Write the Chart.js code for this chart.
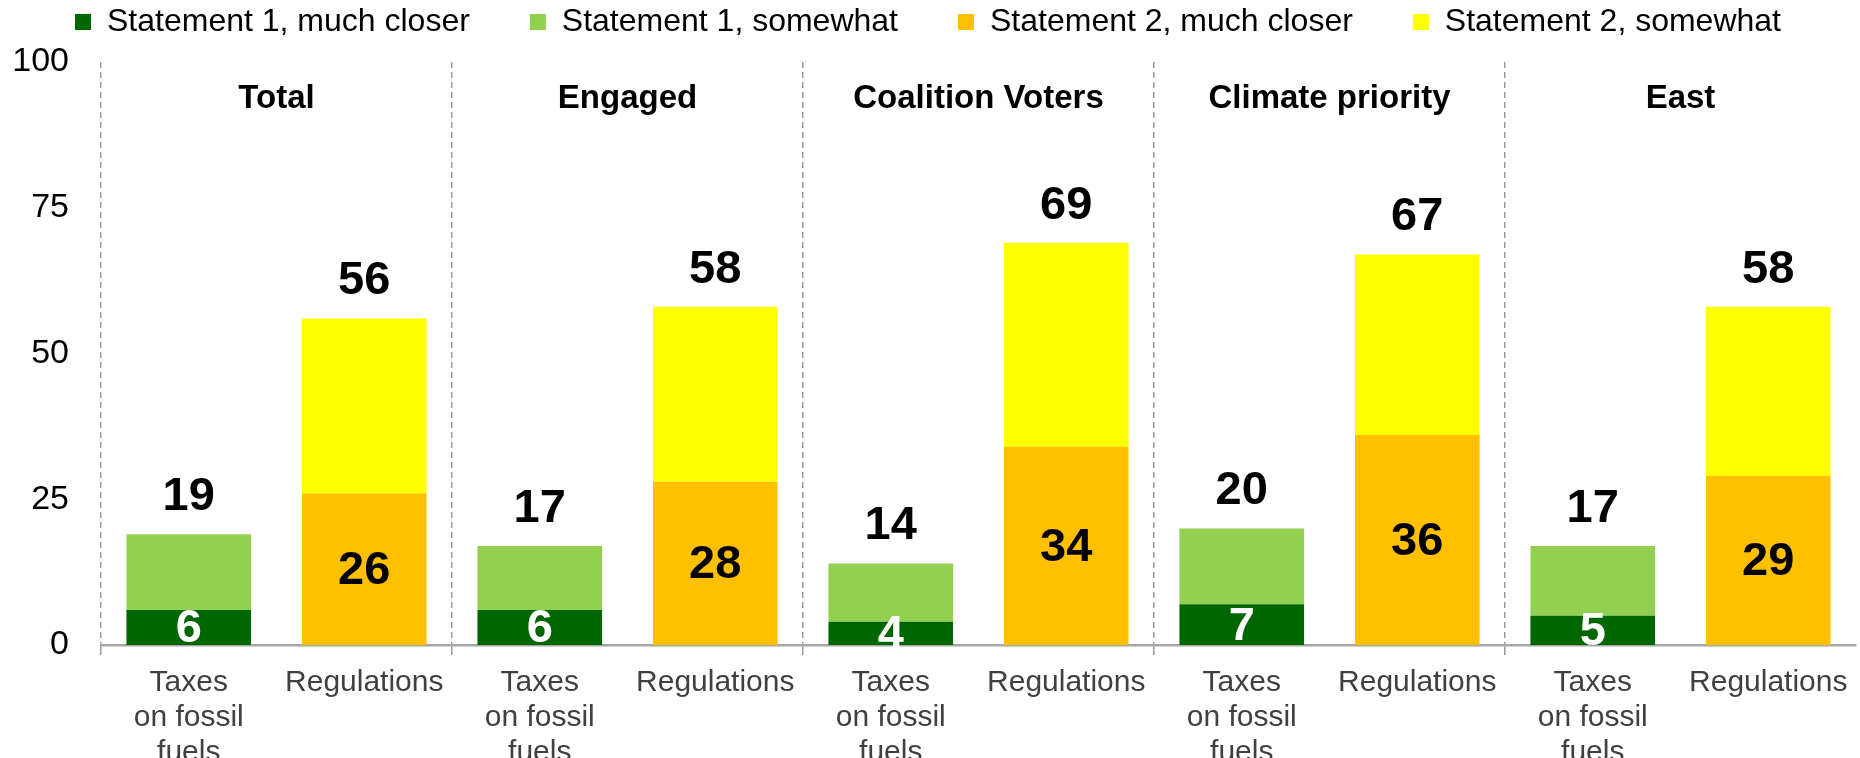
<!DOCTYPE html>
<html>
<head>
<meta charset="utf-8">
<title>Statement 1 vs Statement 2</title>
<script src="https://cdn.jsdelivr.net/npm/chart.js@4.4.1/dist/chart.umd.min.js"></script>
<style>
  html, body { margin: 0; padding: 0; background: #ffffff; }
  #wrap { position: relative; width: 1860px; height: 758px; }
</style>
</head>
<body>
<div id="wrap"><canvas id="chart"></canvas></div>
<script>
// groups shown as headers, two bars per group
const groups = ['Total', 'Engaged', 'Coalition Voters', 'Climate priority', 'East'];
const measures = [['Taxes', 'on fossil', 'fuels'], 'Regulations'];

// one value per bar (taxes, regulations, taxes, regulations, ...)
const s1Much = [6, null, 6, null, 4, null, 7, null, 5, null];
const s1Some = [13, null, 11, null, 10, null, 13, null, 12, null];
const s2Much = [null, 26, null, 28, null, 34, null, 36, null, 29];
const s2Some = [null, 30, null, 30, null, 35, null, 31, null, 29];

const yTicks = [0, 25, 50, 75, 100];

const labels = [];
groups.forEach(() => measures.forEach(m => labels.push(m)));

Chart.defaults.font.family = '"Liberation Sans", Arial, Helvetica, sans-serif';
Chart.defaults.color = '#000000';

// widen the legend box so the plot starts lower
const legendSpacer = {
    id: 'legendSpacer',
    beforeInit(chart) {
        const fit = chart.legend.fit;
        chart.legend.fit = function () {
            fit.call(this);
            this.height = 116;
        };
    }
};

// value labels: inner ones for the "much closer" parts, totals on top
const barLabels = {
    id: 'barLabels',
    afterDatasetsDraw(chart) {
        const ctx = chart.ctx;
        ctx.save();
        ctx.font = 'bold 47px "Liberation Sans", Arial, sans-serif';
        ctx.textAlign = 'center';
        ctx.textBaseline = 'middle';

        [[0, '#ffffff'], [2, '#000000']].forEach(([di, color]) => {
            const meta = chart.getDatasetMeta(di);
            chart.data.datasets[di].data.forEach((v, i) => {
                if (v == null) return;
                const bar = meta.data[i];
                ctx.fillStyle = color;
                ctx.fillText(String(v), bar.x, (bar.y + bar.base) / 2 + 2);
            });
        });

        chart.data.labels.forEach((_, i) => {
            let total = 0;
            let top = null;
            let x = null;
            chart.data.datasets.forEach((ds, di) => {
                const v = ds.data[i];
                if (v == null) return;
                total += v;
                const bar = chart.getDatasetMeta(di).data[i];
                x = bar.x;
                top = top == null ? bar.y : Math.min(top, bar.y);
            });
            if (top == null) return;
            ctx.fillStyle = '#000000';
            ctx.fillText(String(total), x, top - 37);
        });
        ctx.restore();
    }
};

// group headers centred over each pair of bars
const groupTitles = {
    id: 'groupTitles',
    afterDraw(chart) {
        const ctx = chart.ctx;
        const xs = chart.scales.x;
        ctx.save();
        ctx.font = 'bold 33px "Liberation Sans", Arial, sans-serif';
        ctx.fillStyle = '#000000';
        ctx.textAlign = 'center';
        ctx.textBaseline = 'middle';
        groups.forEach((g, gi) => {
            const x = (xs.getPixelForValue(gi * 2) + xs.getPixelForValue(gi * 2 + 1)) / 2;
            ctx.fillText(g, x, chart.chartArea.top + 37);
        });
        ctx.restore();
    }
};

const ctx = document.getElementById('chart');
new Chart(ctx.getContext('2d'), {
    type: 'bar',
    data: {
        labels: labels,
        datasets: [
            { label: 'Statement 1, much closer', data: s1Much, backgroundColor: '#006600' },
            { label: 'Statement 1, somewhat', data: s1Some, backgroundColor: '#92d050' },
            { label: 'Statement 2, much closer', data: s2Much, backgroundColor: '#ffc000' },
            { label: 'Statement 2, somewhat', data: s2Some, backgroundColor: '#ffff00' }
        ]
    },
    options: {
        responsive: true,
        maintainAspectRatio: false,
        animation: false,
        datasets: {
            bar: { barPercentage: 0.71, categoryPercentage: 1, borderWidth: 0 }
        },
        layout: { padding: { top: -54, right: 4, bottom: 0, left: 0 } },
        scales: {
            x: {
                stacked: true,
                offset: true,
                grid: {
                    offset: true,
                    drawOnChartArea: true,
                    drawTicks: true,
                    tickLength: 10,
                    lineWidth: 1.5,
                    color: c => (c.index % 2 === 0 ? '#999999' : 'rgba(0,0,0,0)'),
                    tickBorderDash: []
                },
                border: { display: true, color: '#a6a6a6', width: 2.5, dash: [6, 4] },
                ticks: {
                    color: '#404040',
                    padding: 10,
                    maxRotation: 0,
                    autoSkip: false,
                    font: { size: 30, lineHeight: 1.17 }
                },
                afterFit(scale) { scale.height = 113; }
            },
            y: {
                stacked: true,
                min: 0,
                max: 100,
                afterBuildTicks(scale) { scale.ticks = yTicks.map(v => ({ value: v })); },
                grid: { display: false, drawTicks: false },
                border: { display: false },
                ticks: { color: '#000000', padding: 32, font: { size: 34 } },
                afterFit(scale) { scale.width = 101; }
            }
        },
        plugins: {
            legend: {
                position: 'top',
                align: 'center',
                labels: {
                    boxWidth: 16,
                    boxHeight: 16,
                    padding: 60,
                    color: '#000000',
                    font: { size: 32 }
                }
            },
            tooltip: { enabled: false }
        }
    },
    plugins: [legendSpacer, barLabels, groupTitles]
});
</script>
</body>
</html>
